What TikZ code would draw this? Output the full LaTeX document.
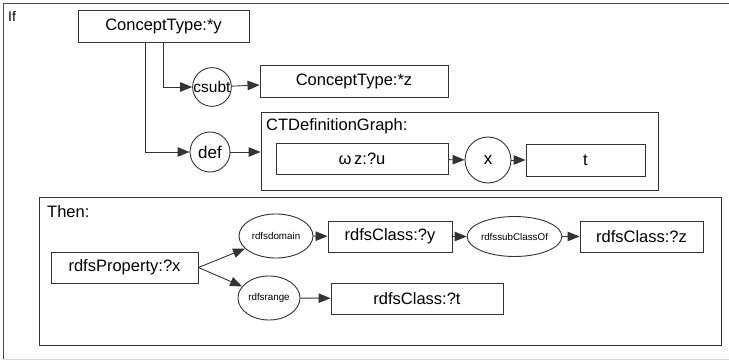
\documentclass[tikz,border=0pt]{standalone}
\usepackage{fontspec}
\setmainfont{Liberation Sans}
\usetikzlibrary{arrows.meta,shapes.geometric}
\begin{document}
\begin{tikzpicture}[x=1pt,y=-1pt,
  lc/.style={draw=black!80, line width=0.9pt},
  box/.style={lc, rectangle, inner sep=0pt, font=\fontsize{16.5}{18}\selectfont},
  rel/.style={lc, circle, inner sep=0pt, font=\fontsize{17}{19}\selectfont},
  rell/.style={lc, ellipse, inner sep=0pt, font=\fontsize{9.8}{11}\selectfont},
  arr/.style={lc, -{Triangle[length=12pt,width=9.5pt]}},
  lbl/.style={inner sep=0pt, anchor=base west}]
\useasboundingbox (0,0) rectangle (729,361);
\fill[white] (0,0) rectangle (729,361);
% outer frame
\draw[draw=black!70, line width=0.9pt] (3,359) -- (3,3) -- (729,3);
\draw[draw=black!15, line width=0.9pt] (3,359) -- (729,359);
\node[lbl, font=\fontsize{14}{16}\selectfont] (iflbl) at (8,22) {If};
% If part
\node[box, minimum width=171pt, minimum height=32pt] (cty) at (163.5,26) {ConceptType:*y};
\node[rel, minimum size=38pt, font=\fontsize{15.5}{17}\selectfont] (csubt) at (212,87) {csubt};
\node[box, minimum width=188pt, minimum height=32pt] (ctz) at (354,81) {ConceptType:*z};
\node[rel, minimum size=40pt] (def) at (210,152) {def};
\node[lc, rectangle, minimum width=397pt, minimum height=78pt, inner sep=0pt] (ctdg) at (459.5,151) {};
\node[lbl, font=\fontsize{16.5}{18}\selectfont] (ctdgl) at (266,131) {CTDefinitionGraph:};
\node[box, minimum width=172pt, minimum height=31pt] (wz) at (362,159) {ω\,z:?u};
\node[rel, minimum size=46pt] (xc) at (488,160) {x};
\node[box, minimum width=119pt, minimum height=32pt] (t) at (585.5,160) {t};
\coordinate (s1) at ([xshift=-0.5pt]cty.south);
\coordinate (s2) at ([xshift=-18.5pt]cty.south);
\draw[arr] (s1) |- (csubt.west);
\draw[arr] (s2) |- (def.west);
\draw[arr] (csubt) -- (ctz);
\draw[arr] (def.east) -- (def.east -| ctdg.west);
\draw[arr] (wz) -- (xc);
\draw[arr] (xc) -- (t);
% Then part
\node[lc, rectangle, minimum width=682pt, minimum height=148pt, inner sep=0pt] (then) at (380,271) {};
\node[lbl, font=\fontsize{16.5}{18}\selectfont] (thenl) at (47,217) {Then:};
\node[box, minimum width=147pt, minimum height=31pt] (prop) at (124.5,267.5) {rdfsProperty:?x};
\node[rell, minimum width=74pt, minimum height=44pt] (dom) at (276,236) {rdfsdomain};
\node[rell, minimum width=62pt, minimum height=44pt] (rng) at (269,298) {rdfsrange};
\node[box, minimum width=124pt, minimum height=31pt] (clsy) at (390,236.5) {rdfsClass:?y};
\node[rell, minimum width=90pt, minimum height=40pt] (sub) at (514.5,236.5) {rdfssubClassOf};
\node[box, minimum width=123pt, minimum height=31pt] (clsz) at (641.5,236.5) {rdfsClass:?z};
\node[box, minimum width=172pt, minimum height=31pt] (clst) at (417,298.5) {rdfsClass:?t};
\draw[arr] (prop.east) -- (dom);
\draw[arr] (prop.east) -- (rng);
\draw[arr] (dom) -- (clsy);
\draw[arr] (clsy) -- (sub);
\draw[arr] (sub) -- (clsz);
\draw[arr] (rng) -- (clst);
\end{tikzpicture}
\end{document}
